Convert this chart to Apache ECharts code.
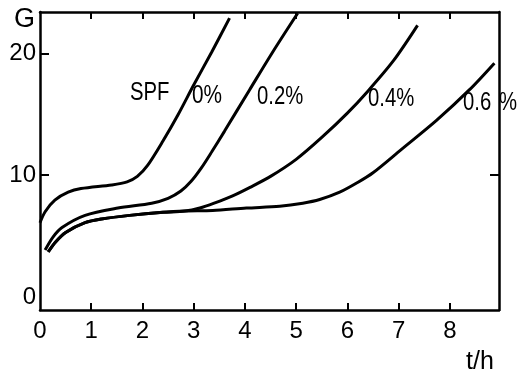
<!DOCTYPE html>
<html>
<head>
<meta charset="utf-8">
<script src="https://cdn.jsdelivr.net/npm/echarts@6/dist/echarts.min.js"></script>
<style>
html,body{margin:0;padding:0;background:#fff;}
#c{width:518px;height:372px;}
</style>
</head>
<body>
<div id="c"></div>
<script>
// tick labels
const xTickLabels = [0, 1, 2, 3, 4, 5, 6, 7, 8];
const xTickMarks = [1, 2, 3, 4, 5, 6, 7, 8];
const yTickLabels = [0, 10, 20];
const yTickMarksLeft = [10, 20];
const yTickMarksRight = [10];

// series values [t (h), G]
const spf0 = [[0,6.1],[0.1,7.0],[0.29,7.95],[0.55,8.6],[0.8,8.9],[1.4,9.2],[1.7,9.45],[1.9,9.9],[2.1,10.8],[2.4,12.8],[2.7,15.0],[3.0,17.4],[3.35,20.1],[3.7,22.9]];
const spf02 = [[0.1,3.85],[0.25,4.9],[0.43,5.7],[0.88,6.7],[1.52,7.3],[2.18,7.7],[2.5,8.1],[2.75,8.7],[2.95,9.5],[3.15,10.6],[3.35,11.9],[3.6,13.6],[4.09,17.0],[4.54,20.1],[5.03,23.3]];
const spf04 = [[0.16,3.7],[0.3,4.5],[0.5,5.3],[0.88,6.1],[1.2,6.4],[1.75,6.7],[2.4,6.95],[2.83,7.05],[3.12,7.3],[3.4,7.7],[3.76,8.3],[4.1,9.0],[4.5,9.9],[5.0,11.3],[5.5,13.1],[6.0,15.1],[6.4,16.9],[6.9,19.4],[7.37,22.3]];
const spf06 = [[0.16,3.7],[0.3,4.5],[0.5,5.3],[0.88,6.1],[1.2,6.4],[1.75,6.7],[2.4,6.95],[2.83,7.05],[3.37,7.1],[4.03,7.3],[4.68,7.45],[5.13,7.7],[5.46,8.0],[5.85,8.6],[6.2,9.4],[6.5,10.2],[7.05,12.1],[7.74,14.5],[8.38,17.0],[8.87,19.2]];

const seriesNames = ['0%', '0.2%', '0.4%', '0.6%'];
const seriesData = [spf0, spf02, spf04, spf06];

const FONT = '"Liberation Sans", Arial, sans-serif';
const AX = {color: '#000', width: 2.5};

function xAx(pos, labels) {
  return {
    type: 'value', position: pos, min: 0, max: 8.96,
    axisLine: {show: true, onZero: false, lineStyle: AX},
    axisTick: {show: true, inside: true, length: 7, customValues: xTickMarks, lineStyle: {color: '#000', width: 2}},
    axisLabel: labels ? {customValues: xTickLabels, fontSize: 24, color: '#000', margin: 9, fontFamily: FONT} : {show: false},
    splitLine: {show: false}
  };
}
function yAx(pos, ticks, labels) {
  return {
    type: 'value', position: pos, min: -1.07, max: 23.4,
    axisLine: {show: true, onZero: false, lineStyle: AX},
    axisTick: {show: true, inside: true, length: 9, customValues: ticks, lineStyle: {color: '#000', width: 2}},
    axisLabel: labels ? {customValues: yTickLabels, fontSize: 24, color: '#000', margin: 4, fontFamily: FONT} : {show: false},
    splitLine: {show: false}
  };
}

const chart = echarts.init(document.getElementById('c'), null, {renderer: 'canvas'});
function txt(x, y, s, size, sx) {
  return {type: 'text', x: x, y: y, scaleX: sx || 1,
    style: {text: s, fontSize: size, fontFamily: FONT, fill: '#000', textVerticalAlign: 'middle', textAlign: 'left'}};
}
chart.setOption({
  backgroundColor: '#fff',
  animation: false,
  grid: {left: 40, right: 19, top: 12, bottom: 62, containLabel: false},
  xAxis: [xAx('bottom', true), xAx('top', false)],
  yAxis: [yAx('left', yTickMarksLeft, true), yAx('right', yTickMarksRight, false)],
  series: seriesData.map((d, i) => ({
    name: seriesNames[i], type: 'line', data: d, xAxisIndex: 0, yAxisIndex: 0,
    showSymbol: false, smooth: 0.3,
    lineStyle: {color: '#000', width: 3}
  })),
  graphic: [
    txt(14, 20, 'G', 27),
    txt(466, 362, 't/h', 25),
    txt(130, 93, 'SPF', 26, 0.78),
    txt(192, 96, '0%', 26, 0.8),
    txt(257, 97, '0.2%', 26, 0.78),
    txt(368, 99, '0.4%', 26, 0.78),
    txt(463, 103, '0.6', 26, 0.78),
    txt(499, 103, '%', 26, 0.78)
  ]
});
</script>
</body>
</html>
